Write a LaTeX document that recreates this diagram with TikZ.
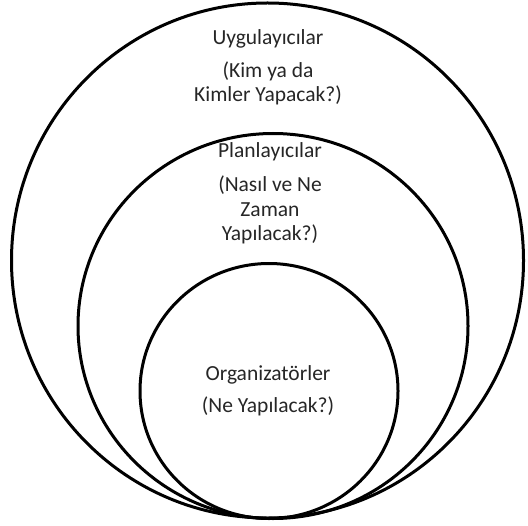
\documentclass[tikz,border=0pt]{standalone}
\usepackage{fontspec}
\setmainfont{Carlito}
\begin{document}
\begin{tikzpicture}[x=1bp,y=-1bp,
  ring/.style={draw=black,line width=3bp},
  lbl/.style={anchor=base,inner sep=0pt,text=black!85,font=\fontsize{21.5bp}{24bp}\selectfont}]
\useasboundingbox (0,0) rectangle (528,526);
\fill[white] (0,0) rectangle (528,526);
\draw[ring] (267.5,260.5) ellipse [x radius=256, y radius=257.5];
\draw[ring] (273,326) ellipse [x radius=195, y radius=192.5];
\draw[ring] (269,391) ellipse [x radius=129, y radius=127.5];
\node[lbl] (u1) at (268,45) {Uygulayıcılar};
\node[lbl] (u2) at (268,78) {(Kim ya da};
\node[lbl] (u3) at (268,102) {Kimler Yapacak?)};
\node[lbl] (p1) at (270,158) {Planlayıcılar};
\node[lbl] (p2) at (270,192) {(Nasıl ve Ne};
\node[lbl] (p3) at (270,216) {Zaman};
\node[lbl] (p4) at (270,240) {Yapılacak?)};
\node[lbl] (o1) at (268,380) {Organizatörler};
\node[lbl] (o2) at (268,412) {(Ne Yapılacak?)};
\end{tikzpicture}
\end{document}
